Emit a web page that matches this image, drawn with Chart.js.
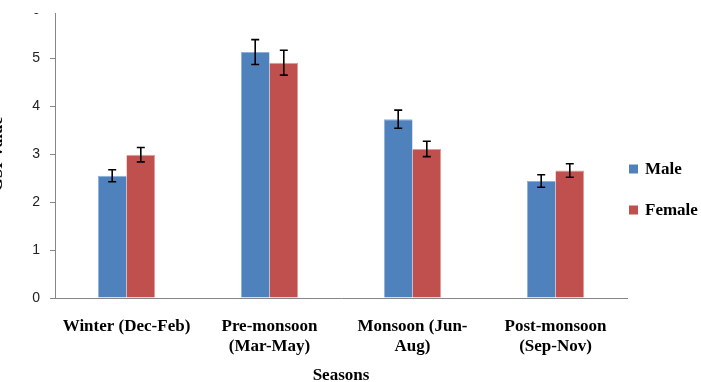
<!DOCTYPE html>
<html>
<head>
<meta charset="utf-8">
<script src="https://cdn.jsdelivr.net/npm/chart.js@4/dist/chart.umd.min.js"></script>
<style>
html,body{margin:0;padding:0;background:#fff;overflow:hidden}
#wrap{position:absolute;left:-10px;top:-8px;width:711px;height:390px}
#mask{position:absolute;left:0;top:0;width:60px;height:13px;background:#fff}
</style>
</head>
<body>
<div id="wrap"><canvas id="c" width="711" height="390"></canvas></div>
<div id="mask"></div>
<script>
const seasons = [['Winter (Dec-Feb)'],['Pre-monsoon','(Mar-May)'],['Monsoon (Jun-','Aug)'],['Post-monsoon','(Sep-Nov)']]
const male = [2.55, 5.13, 3.73, 2.44]
const maleErr = [0.125, 0.26, 0.19, 0.13]
const female = [2.99, 4.91, 3.11, 2.66]
const femaleErr = [0.15, 0.26, 0.16, 0.14]
const yTicks = [0,1,2,3,4,5,6]

const 误差线 = {
  id:'errbars',
  afterDatasetsDraw(chart){
    const ctx = chart.ctx, y = chart.scales.y
    ctx.save()
    ctx.strokeStyle = '#000'
    ctx.lineWidth = 1.6
    chart.data.datasets.forEach((ds,i)=>{
      chart.getDatasetMeta(i).data.forEach((bar,j)=>{
        const v = ds.data[j], e = ds.err[j]
        const t = y.getPixelForValue(v+e), b = y.getPixelForValue(v-e)
        ctx.beginPath()
        ctx.moveTo(bar.x,t); ctx.lineTo(bar.x,b)
        ctx.moveTo(bar.x-4,t); ctx.lineTo(bar.x+4,t)
        ctx.moveTo(bar.x-4,b); ctx.lineTo(bar.x+4,b)
        ctx.stroke()
      })
    })
    ctx.restore()
  }
}

const 图例 = {
  id:'sideLegend',
  afterDraw(chart){
    const ctx = chart.ctx, a = chart.chartArea
    ctx.save()
    ctx.font = 'bold 17px "Liberation Serif"'
    ctx.textBaseline = 'middle'
    chart.data.datasets.forEach((ds,i)=>{
      const cy = 177 + i*41
      ctx.fillStyle = ds.backgroundColor
      ctx.fillRect(a.right+2, cy-4.5, 9, 9)
      ctx.fillStyle = '#000'
      ctx.fillText(ds.label, a.right+18, cy+1)
    })
    ctx.restore()
  }
}

new Chart(document.getElementById('c'),{
  type:'bar',
  data:{
    labels:seasons,
    datasets:[
      {label:'Male',data:male,err:maleErr,backgroundColor:'#4F81BD',borderColor:'#8fb0da',borderWidth:{left:1,top:1,right:0,bottom:0}},
      {label:'Female',data:female,err:femaleErr,backgroundColor:'#C0504D',borderColor:'#e09a98',borderWidth:{left:0,top:1,right:1,bottom:0}}
    ]
  },
  options:{
    responsive:false,
    animation:false,
    events:[],
    categoryPercentage:0.4,
    barPercentage:1,
    layout:{padding:{top:2,right:74,bottom:0,left:0}},
    plugins:{legend:{display:false},tooltip:{enabled:false}},
    scales:{
      x:{
        grid:{drawOnChartArea:false,drawTicks:false},
        border:{color:'#868686',width:1},
        ticks:{color:'#000',padding:18,maxRotation:0,autoSkip:false,font:{family:'"Liberation Serif"',size:17,weight:'bold',lineHeight:1.2}},
        title:{display:true,text:'Seasons',color:'#000',font:{family:'"Liberation Serif"',size:17,weight:'bold',lineHeight:1},padding:{top:0,bottom:-2}},
        afterFit(s){s.height=84}
      },
      y:{
        min:0,max:6,
        afterBuildTicks(s){s.ticks = yTicks.map(v=>({value:v}))},
        grid:{drawOnChartArea:false,drawTicks:true,tickLength:5,color:'#868686'},
        border:{color:'#868686',width:1},
        ticks:{color:'#222',padding:10,font:{family:'"Liberation Sans"',size:14}},
        title:{display:true,text:'GSI Value',color:'#000',font:{family:'"Liberation Serif"',size:17,weight:'bold'},padding:{top:-3,bottom:0}},
        afterFit(s){s.width=65}
      }
    }
  },
  plugins:[误差线,图例]
})
</script>
</body>
</html>
